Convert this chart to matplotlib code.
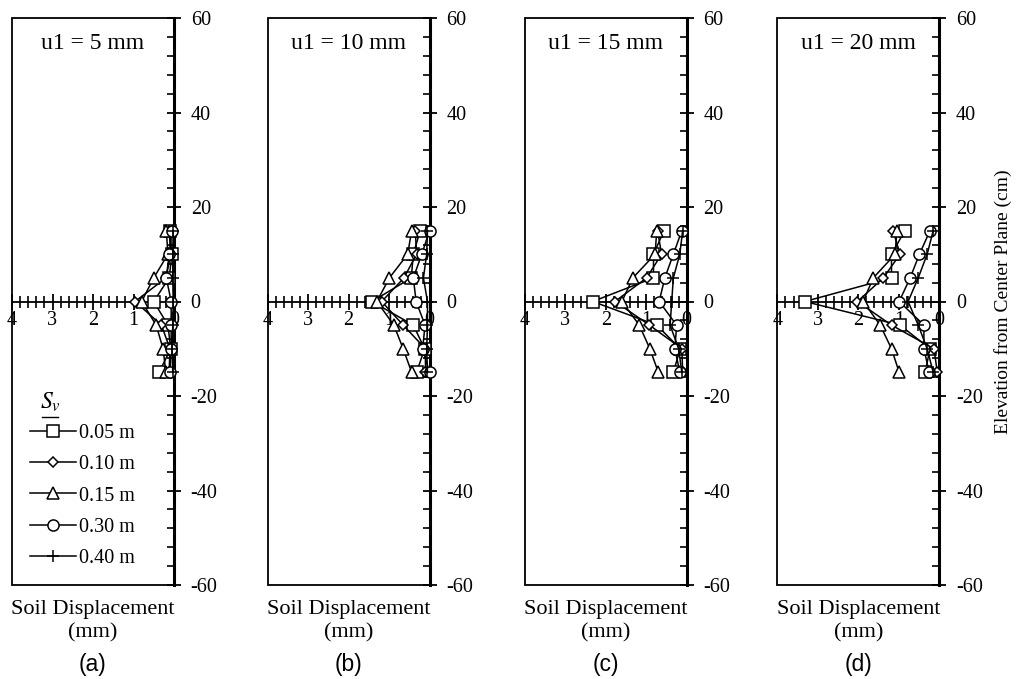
import matplotlib.pyplot as plt
from matplotlib.patches import Rectangle
from matplotlib.ticker import MultipleLocator

plt.rcParams['font.family'] = ['Liberation Serif', 'DejaVu Serif']
plt.rcParams['mathtext.fontset'] = 'stix'
plt.rcParams['axes.unicode_minus'] = False

# elevation of the measuring points (cm)
elevation = [15, 10, 5, 0, -5, -10, -15]

spacing_labels = ['0.05 m', '0.10 m', '0.15 m', '0.30 m', '0.40 m']
panel_titles = ['u1 = 5 mm', 'u1 = 10 mm', 'u1 = 15 mm', 'u1 = 20 mm']
panel_tags = ['(a)', '(b)', '(c)', '(d)']

# soil displacement (mm), one list per spacing, for each wall movement
disp_u5 = [
    [0.10, 0.05, 0.12, 0.50, 0.15, 0.08, 0.37],
    [0.12, 0.08, 0.20, 0.96, 0.31, 0.10, 0.12],
    [0.19, 0.15, 0.50, 0.80, 0.44, 0.27, 0.20],
    [0.05, 0.12, 0.19, 0.07, 0.07, 0.07, 0.10],
    [0.02, 0.03, 0.03, 0.02, 0.03, 0.05, 0.03],
]
disp_u10 = [
    [0.23, 0.40, 0.45, 1.42, 0.40, 0.12, 0.32],
    [0.35, 0.32, 0.63, 1.18, 0.65, 0.10, 0.10],
    [0.44, 0.54, 0.99, 1.30, 0.88, 0.65, 0.44],
    [0.00, 0.19, 0.40, 0.33, 0.11, 0.17, 0.00],
    [0.05, 0.07, 0.15, 0.05, 0.05, 0.07, 0.05],
]
disp_u15 = [
    [0.56, 0.82, 0.82, 2.32, 0.74, 0.16, 0.33],
    [0.72, 0.62, 0.99, 1.77, 0.92, 0.12, 0.10],
    [0.74, 0.78, 1.33, 1.60, 1.17, 0.91, 0.70],
    [0.12, 0.33, 0.54, 0.68, 0.25, 0.29, 0.17],
    [0.10, 0.17, 0.33, 0.37, 0.41, 0.20, 0.12],
]
disp_u20 = [
    [0.85, 1.18, 1.18, 3.32, 0.97, 0.23, 0.35],
    [1.14, 0.97, 1.38, 2.02, 1.18, 0.13, 0.05],
    [1.05, 1.09, 1.63, 1.88, 1.46, 1.18, 0.99],
    [0.23, 0.49, 0.72, 0.99, 0.38, 0.38, 0.25],
    [0.15, 0.30, 0.52, 0.77, 0.52, 0.30, 0.15],
]
all_disp = [disp_u5, disp_u10, disp_u15, disp_u20]

markers = ['s', 'D', '^', 'o', '+']
msizes = [8, 5.5, 8, 8, 9]

W, H = 1019, 679
fig = plt.figure(figsize=(W / 100, H / 100), dpi=100)

lefts = [12, 267.5, 524.7, 777.3]
ax_w, top, bottom = 162, 18, 585

for i, disp in enumerate(all_disp):
    ax = fig.add_axes([lefts[i] / W, 1 - bottom / H, ax_w / W, (bottom - top) / H])
    ax.set_xlim(4, 0)
    ax.set_ylim(-60, 60)

    for k, vals in enumerate(disp):
        ax.plot(vals, elevation, color='black', lw=1.1, marker=markers[k],
                ms=msizes[k], mfc='white', mec='black', mew=1.1,
                label=spacing_labels[k], clip_on=False, zorder=3)

    # frame: thin box plus heavy right axis, x axis through zero
    ax.add_patch(Rectangle((0, 0), 1, 1, transform=ax.transAxes, fill=False,
                           lw=1.3, ec='black', clip_on=False, zorder=1))
    ax.spines['top'].set_visible(False)
    ax.spines['left'].set_visible(False)
    ax.spines['bottom'].set_position(('data', 0))
    ax.spines['bottom'].set_linewidth(1.3)
    ax.spines['right'].set_linewidth(2.2)

    ax.yaxis.tick_right()
    ax.yaxis.set_major_locator(MultipleLocator(20))
    ax.yaxis.set_minor_locator(MultipleLocator(4))
    ax.tick_params(axis='y', which='major', direction='inout', length=10,
                   width=1.3, labelsize=14.5, pad=7)
    ax.tick_params(axis='y', which='minor', direction='in', length=5, width=1.2)

    ax.xaxis.set_major_locator(MultipleLocator(1))
    ax.xaxis.set_minor_locator(MultipleLocator(0.2))
    ax.tick_params(axis='x', which='major', direction='inout', length=11,
                   width=1.3, labelsize=14.5, pad=1)
    ax.tick_params(axis='x', which='minor', direction='inout', length=9, width=1.2)

    ax.text(0.5, 0.955, panel_titles[i], transform=ax.transAxes, ha='center',
            va='center', fontsize=17)
    ax.text(0.5, -0.026, 'Soil Displacement\n(mm)', transform=ax.transAxes,
            ha='center', va='top', fontsize=16, linespacing=1.3)
    fig.text((lefts[i] + ax_w / 2) / W, 1 - 664 / H, panel_tags[i],
             ha='center', va='center', fontsize=16.5, family='Liberation Sans')

    if i == 0:
        leg = ax.legend(loc='lower left', bbox_to_anchor=(0.06, 0.016),
                        frameon=False, fontsize=14.5, handlelength=2.3,
                        handletextpad=0.15, labelspacing=0.6, borderaxespad=0)
        ax.text(0.235, 0.322, r'$S_v$', transform=ax.transAxes, ha='center',
                va='center', fontsize=17)
        ax.plot([0.185, 0.285], [0.297, 0.297], color='black', lw=1.0,
                transform=ax.transAxes)

    if i == 3:
        ax.yaxis.set_label_position('right')
        ax.set_ylabel('Elevation from Center Plane (cm)', fontsize=14,
                      labelpad=8)

fig.savefig('out.png', dpi=100)
